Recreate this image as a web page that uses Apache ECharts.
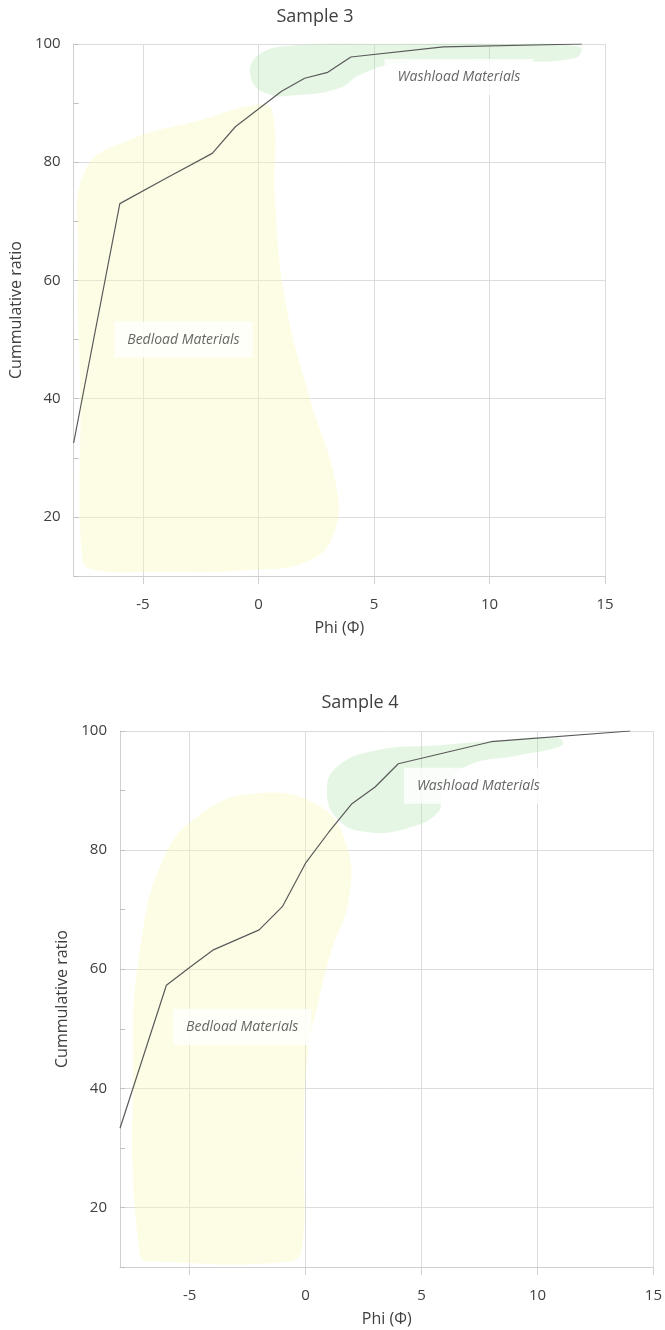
<!DOCTYPE html>
<html>
<head>
<meta charset="utf-8">
<script src="https://cdn.jsdelivr.net/npm/echarts@6/dist/echarts.min.js"></script>
<style>html,body{margin:0;padding:0;background:#fff}#c{width:665px;height:1330px}</style>
</head>
<body>
<div id="c"></div>
<script>
// ---- data ----
const titles = ['Sample 3', 'Sample 4'];
const xAxisName = 'Phi (Φ)';
const yAxisName = 'Cummulative ratio';
const xTicks = [-5, 0, 5, 10, 15];
const yTicks = [20, 40, 60, 80, 100];

const s3X = [-8, -6, -4, -2, -1, 0, 1, 2, 3, 4, 8, 14];
const s3Y = [32.5, 73, 77.3, 81.5, 86, 89, 92, 94.2, 95.2, 97.8, 99.5, 100];

const s4X = [-8, -6, -5, -4, -2, -1, 0, 1, 2, 3, 4, 8, 14];
const s4Y = [33.3, 57.3, 60.3, 63.2, 66.6, 70.5, 77.8, 83, 87.8, 90.6, 94.5, 98.2, 100];

const annotTexts = ['Bedload Materials', 'Washload Materials'];
const annot3X = [-3.25, 8.68];
const annot3Y = [50, 94.4];
const annot4X = [-2.73, 7.45];
const annot4Y = [50.3, 90.8];

// shaded regions (data coordinates)
const bed3 = [[-7.62,12.7],[-7.71,39.8],[-7.8,65.1],[-7.49,78.7],[-5.55,83.8],[-2.52,87.1],[-0.14,89.7],[0.59,88.8],[0.72,73.6],[1.16,56.7],[2.24,39.8],[3.32,26.2],[3.32,17.8],[2.24,12.7],[-0.36,11.0],[-4.68,10.7],[-7.06,11.0]];
const wash3 = [[-0.36,94.8],[-0.01,98.1],[1.37,99.7],[6.13,100],[10.45,100],[13.91,99.5],[13.7,97.6],[10.45,97.0],[6.13,96.8],[4.4,94.8],[3.53,92.6],[1.8,91.4],[0.29,91.7]];
const bed4 = [[-7.14,12.0],[-7.44,46.4],[-7.14,63.2],[-6.16,78.3],[-4.57,85.9],[-2.21,89.5],[0.57,87.5],[1.77,80.8],[1.86,71.6],[1.13,63.2],[0.57,54.8],[0.06,44.7],[-0.07,29.6],[-0.16,12.9],[-0.71,10.9],[-6.29,10.9]];
const wash4 = [[0.92,90.1],[1.43,94.2],[3.14,96.8],[5.72,97.6],[8.29,98.4],[10.86,98.9],[11.07,97.6],[9.15,95.9],[7.0,94.2],[5.93,90.1],[5.72,86.4],[4.43,83.7],[2.72,83.0],[1.43,85.0]];

// ---- chart ----
const FONT = '"Open Sans", sans-serif';
const TXT = '#404040';
const GRID = '#dcdcdc';

function xAxisCfg(gi) {
  return {
    gridIndex: gi, type: 'value', min: -8, max: 15,
    name: xAxisName, nameLocation: 'middle', nameGap: 44,
    nameTextStyle: {fontSize: 16, color: TXT, fontFamily: FONT},
    axisLine: {show: true, onZero: false, lineStyle: {color: '#d0d0d0', width: 1}},
    axisTick: {show: true, length: 8, customValues: xTicks, lineStyle: {color: '#d0d0d0'}},
    axisLabel: {customValues: xTicks, margin: 21, fontSize: 15, color: TXT, fontFamily: FONT},
    splitLine: {show: true, lineStyle: {color: GRID, width: 1}}
  };
}
function yAxisCfg(gi) {
  return {
    gridIndex: gi, type: 'value', min: 10, max: 100, interval: 10,
    name: yAxisName, nameLocation: 'middle', nameGap: 47, nameRotate: 90,
    nameTextStyle: {fontSize: 16, color: TXT, fontFamily: FONT},
    axisLine: {show: true, onZero: false, lineStyle: {color: '#d0d0d0', width: 1}},
    axisTick: {show: true, inside: true, length: 5, lineStyle: {color: '#c0c0c0'}},
    axisLabel: {margin: 13, fontSize: 15, color: TXT, fontFamily: FONT,
      formatter: v => yTicks.includes(v) ? String(v) : ''},
    splitLine: {show: true, lineStyle: {color: ['rgba(0,0,0,0)', GRID], width: 1}}
  };
}
function blob(gi, pts, fill) {
  return {
    type: 'custom', xAxisIndex: gi, yAxisIndex: gi, z: 1, silent: true,
    data: pts,
    renderItem: (params, api) => {
      if (params.dataIndex !== 0) return null;
      return {type: 'polygon', shape: {points: pts.map(p => api.coord(p)), smooth: 0.45},
        style: {fill: fill}};
    }
  };
}
function annot(gi, xs, ys) {
  return {
    type: 'scatter', xAxisIndex: gi, yAxisIndex: gi, z: 3, symbolSize: 0, silent: true,
    data: xs.map((x, i) => [x, ys[i], annotTexts[i]]),
    label: {show: true, position: 'inside', formatter: p => p.value[2],
      fontStyle: 'italic', fontSize: 14, color: TXT, fontFamily: FONT,
      backgroundColor: '#ffffff', padding: [11, 13]}
  };
}
function line(gi, xs, ys) {
  return {
    type: 'line', xAxisIndex: gi, yAxisIndex: gi, z: 5, symbol: 'none', silent: true,
    data: xs.map((x, i) => [x, ys[i]]),
    lineStyle: {color: '#5a5a5a', width: 1.2}
  };
}
const YEL = 'rgba(250,250,190,0.38)';
const GRN = 'rgba(175,228,170,0.32)';

const chart = echarts.init(document.getElementById('c'), null, {renderer: 'canvas'});
chart.setOption({
  animation: false,
  backgroundColor: '#fff',
  title: [
    {text: titles[0], left: 315, top: 8, textAlign: 'center', padding: 0,
      textStyle: {fontSize: 18, fontWeight: 'normal', color: TXT, fontFamily: FONT}},
    {text: titles[1], left: 360, top: 694, textAlign: 'center', padding: 0,
      textStyle: {fontSize: 18, fontWeight: 'normal', color: TXT, fontFamily: FONT}}
  ],
  grid: [
    {left: 73, top: 44, width: 532, height: 532},
    {left: 120, top: 731, width: 537, height: 536}
  ],
  xAxis: [xAxisCfg(0), xAxisCfg(1)],
  yAxis: [yAxisCfg(0), yAxisCfg(1)],
  series: [
    blob(0, bed3, YEL), blob(0, wash3, GRN),
    blob(1, bed4, YEL), blob(1, wash4, GRN),
    annot(0, annot3X, annot3Y), annot(1, annot4X, annot4Y),
    line(0, s3X, s3Y), line(1, s4X, s4Y)
  ]
});
</script>
</body>
</html>
